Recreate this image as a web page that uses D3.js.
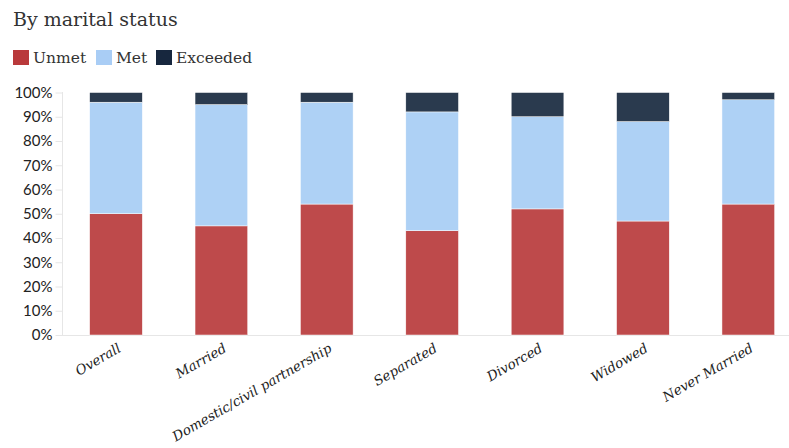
<!DOCTYPE html>
<html><head><meta charset="utf-8">
<script src="https://cdn.jsdelivr.net/npm/d3@7"></script>
<style>body{margin:0;background:#fff}svg{display:block}</style>
</head><body><svg id="c" width="789" height="448"></svg>
<script>
const categories = ["Overall","Married","Domestic/civil partnership","Separated","Divorced","Widowed","Never Married"];
const unmet    = [50, 45, 54, 43, 52, 47, 54];
const met      = [46, 50, 42, 49, 38, 41, 43];
const exceeded = [4, 5, 4, 8, 10, 12, 3];
const seriesNames = ["Unmet","Met","Exceeded"];
const barColors = ["#be4a4b","#aed1f5","#2a3a4e"];
const legendColors = ["#b9393b","#a9cdf5","#17273e"];
const yTicks = [0,10,20,30,40,50,60,70,80,90,100];

const svg = d3.select("#c");
const serif = "'DejaVu Serif', serif";
svg.append("text").attr("x",13).attr("y",26).attr("font-family",serif)
  .attr("font-size",19).attr("fill","#333").text("By marital status");

// legend
const lx = [13, 96, 156];
seriesNames.forEach((n,i)=>{
  svg.append("rect").attr("x",lx[i]).attr("y",50).attr("width",16).attr("height",15).attr("fill",legendColors[i]);
  svg.append("text").attr("x",lx[i]+20).attr("y",63).attr("font-family",serif).attr("font-size",15.5).attr("fill","#333").text(n);
});

const x = d3.scaleBand().domain(categories).range([63.3, 801]).paddingInner(0.5).paddingOuter(0.25);
const y = d3.scaleLinear().domain([0,100]).range([335, 92.5]);

const rows = categories.map((c,i)=>({cat:c, Unmet:unmet[i], Met:met[i], Exceeded:exceeded[i]}));
const stack = d3.stack().keys(seriesNames)(rows);

// axes lines
svg.append("line").attr("x1",62.5).attr("x2",62.5).attr("y1",92).attr("y2",335).attr("stroke","#e6e6e6");
svg.append("line").attr("x1",62).attr("x2",789).attr("y1",335.5).attr("y2",335.5).attr("stroke","#e6e6e6");

const yAxis = d3.axisLeft(y).tickValues(yTicks).tickFormat(d=>d+"%").tickSize(7).tickPadding(3);
const ya = svg.append("g").attr("transform","translate(62.5,0)").call(yAxis);
ya.select(".domain").remove();
ya.selectAll("line").attr("stroke","#e6e6e6");
ya.selectAll("text").attr("font-family","Lato, sans-serif").attr("font-size",15).attr("fill","#222");

stack.forEach((s,i)=>{
  svg.append("g").selectAll("rect").data(s).join("rect")
    .attr("x",d=>x(d.data.cat)).attr("width",x.bandwidth())
    .attr("y",d=>y(d[1])).attr("height",d=>y(d[0])-y(d[1]))
    .attr("fill",barColors[i]).attr("stroke","#fff").attr("stroke-width",0.5);
});

const xa = svg.append("g");
xa.selectAll("text").data(categories).join("text")
  .attr("transform",d=>`translate(${x(d)+x.bandwidth()/2+6},351) rotate(-30)`)
  .attr("text-anchor","end").attr("font-family",serif).attr("font-style","italic")
  .attr("font-size",13.5).attr("fill","#222").text(d=>d);
</script></body></html>
